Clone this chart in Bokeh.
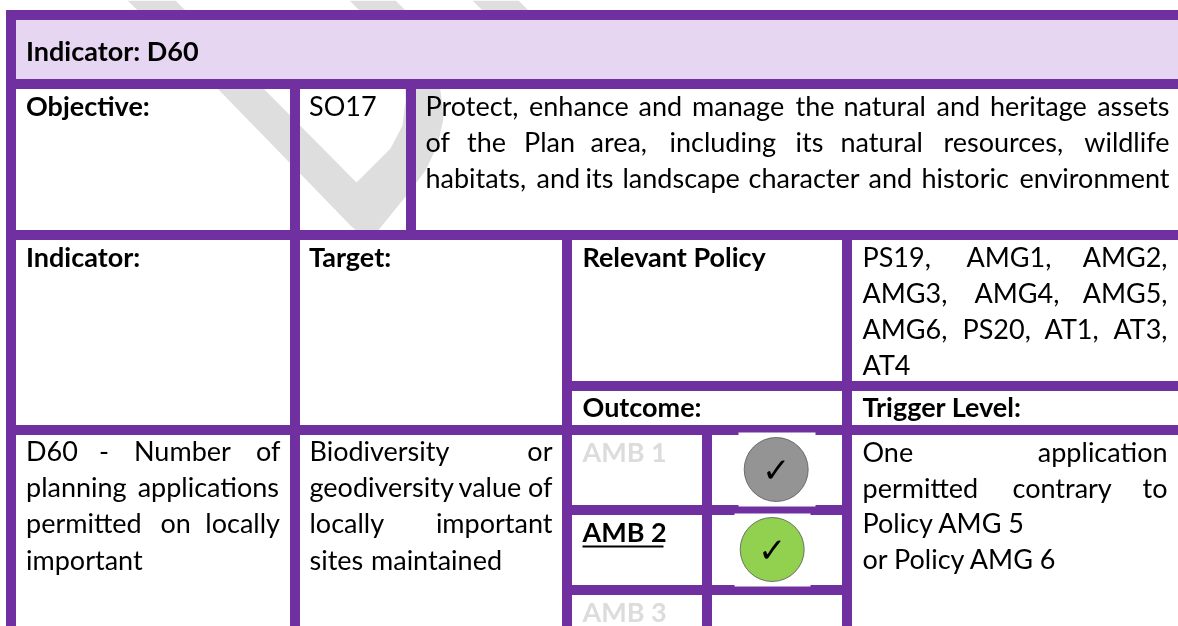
from bokeh.plotting import figure
from bokeh.core.properties import value
from bokeh.embed import file_html
from bokeh.resources import INLINE

# ---- content ----
title_text = ["Indicator: D60"]
heading_texts = ["Objective:", "Indicator:", "Target:", "Relevant Policy", "Outcome:", "Trigger Level:", "AMB 2"]
faded_texts = ["AMB 1", "AMB 3"]
body_left_words = [
    "SO17",
    "Protect,", "enhance", "and", "manage", "the", "natural", "and", "heritage",
    "of", "the", "Plan", "area,", "including", "its", "natural", "resources,",
    "habitats,", "and", "its", "landscape", "character", "and", "historic",
    "PS19,", "AMG1,", "AMG3,", "AMG4,", "AMG6,", "PS20,", "AT1,", "AT4",
    "One", "permitted", "contrary", "Policy AMG 5", "or Policy AMG 6",
    "D60", "-", "Number", "planning", "permitted", "on", "important",
    "Biodiversity", "geodiversity", "value", "locally", "sites", "maintained",
]
body_right_words = [
    "assets", "wildlife", "environment", "AMG2,", "AMG5,", "AT3,",
    "application", "to", "of", "applications", "locally", "or", "of", "important",
]
check_mark = ["✓", "✓"]

# ---- layout (pixels of the 1178x626 page) ----
W, H = 1178, 626
PURPLE, LILAC, GREY_MARK, FADED = "#7030A0", "#E6D6F2", "#DEDEDE", "#DCDCDC"

title_pos = [(25.5, 58)]
heading_pos = [(25.5, 113), (25.5, 264), (308.5, 264), (582, 264), (582, 414), (862, 414), (582, 539)]
faded_pos = [(582, 459), (582, 619)]
body_left_pos = [
    (308.5, 113),
    (425, 113), (528.5, 113), (638, 113), (691.5, 113), (795, 113), (843, 113), (936, 113), (989.5, 113),
    (425, 149), (466.5, 149), (523.5, 149), (590, 149), (669, 149), (795, 149), (840, 149), (943, 149),
    (425, 185), (536, 185), (585, 185), (622, 185), (748, 185), (868, 185), (921, 185),
    (862, 264), (966, 264), (862, 300), (974, 300), (862, 336), (962, 336), (1044, 336), (862, 372),
    (862, 459), (862, 495), (1012, 495), (862, 530), (862, 566),
    (25.5, 458), (98.5, 458), (133.5, 458), (25.5, 494), (25.5, 530), (160, 530), (25.5, 567),
    (309, 458), (309, 494), (458, 494), (309, 530), (309, 567), (370.5, 567),
]
body_right_pos = [
    (1169, 113), (1169, 149), (1169, 185), (1167, 264), (1167, 300), (1167, 336),
    (1167, 459), (1167, 495), (280, 458), (278.5, 494), (279.5, 530), (552, 458), (552, 494), (552, 530),
]

purple_bars = [  # left, right, top, bottom
    (6, W, 10, 19), (6, W, 79, 88), (6, W, 230, 239), (562, W, 381, 390), (6, W, 425, 434),
    (562, 851, 505, 514), (562, 851, 585, 594),
    (6, 15, 10, H), (290, 299, 79, H), (406, 415, 79, 239), (562, 571, 230, H),
    (702, 711, 425, H), (842, 851, 230, H),
]
white_patches = [(738, 815, 432, 506), (734, 810, 513, 586)]

mark_x = [[127, 217, 350, 358, 367, 376, 406, 425, 437, 443, 441, 437, 404, 405, 402, 390, 356, 263, 175],
          [349, 409, 455, 395], [472, 532, 578, 518]]
mark_y = [[0, 88, 225, 232, 235, 232, 195, 170, 145, 118, 98, 70, 70, 100, 125, 148, 182, 88, 0],
          [0, 60, 60, 0], [0, 60, 60, 0]]

circle_x, circle_y, circle_fill = [775.7, 771.7], [469, 549], ["#949494", "#92D050"]
check_x, check_y = [775.7, 771.7], [479, 559]
FONT, SIZE = value("Lato"), "27px"
TEXT_DY = -8

p = figure(width=W, height=H, x_range=(0, W), y_range=(H, 0), output_backend="svg",
           toolbar_location=None, x_axis_type=None, y_axis_type=None, min_border=0,
           outline_line_color=None, background_fill_color="white", margin=(0, 0, 0, 0),
           styles={"position": "fixed", "left": "0px", "top": "0px"})
p.grid.visible = False

p.patches(mark_x, mark_y, fill_color=GREY_MARK, line_color=None)
p.quad(left=[15], right=[W], top=[19], bottom=[79], fill_color=LILAC, line_color=None)


def bars(rows, color, edge=None, edge_width=0):
    l, r, t, b = zip(*rows)
    p.quad(left=list(l), right=list(r), top=list(t), bottom=list(b), fill_color=color,
           line_color=edge, line_width=edge_width)


bars(purple_bars, PURPLE, PURPLE, 1)
bars(white_patches, "white")
p.circle(circle_x, circle_y, radius=32, fill_color=circle_fill, line_color="#555555", line_width=0.8)


def words(texts, pos, align="left", style="normal", color="black", size=SIZE, font=FONT):
    xs, ys = zip(*pos)
    p.text(x=list(xs), y=list(ys), text=texts, text_align=align, text_baseline="alphabetic",
           y_offset=TEXT_DY, text_font=font, text_font_size=size, text_font_style=style, text_color=color)


words(title_text, title_pos, style="bold")
words(heading_texts, heading_pos, style="bold")
words(faded_texts, faded_pos, style="bold", color=FADED)
words(body_left_words, body_left_pos)
words(body_right_words, body_right_pos, align="right")
p.quad(left=[582], right=[663], top=[545], bottom=[547], fill_color="black", line_color=None)
p.text(x=check_x, y=check_y, text=check_mark, text_align="center", text_baseline="alphabetic",
       y_offset=-10, text_font=value("DejaVu Sans"), text_font_size="34px", text_font_style="bold", text_color="black")

open("out.html", "w").write(file_html(p, INLINE))
